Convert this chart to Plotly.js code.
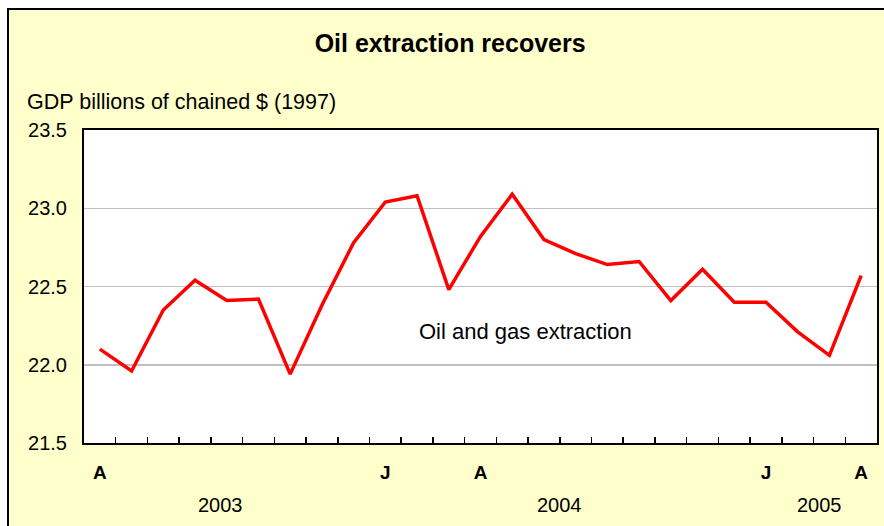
<!DOCTYPE html>
<html>
<head>
<meta charset="utf-8">
<script src="https://cdn.plot.ly/plotly-3.0.1.min.js"></script>
<style>
  html, body { margin:0; padding:0; background:#ffffff; width:884px; height:526px; overflow:hidden; }
  #frame { position:absolute; left:7px; top:8px; width:877px; height:518px; border-left:2px solid #000; border-top:2px solid #000; overflow:hidden; background:#FFFFCC; }
  #chart { width:877px; height:518px; }
</style>
</head>
<body>
<div id="frame"><div id="chart"></div></div>
<script>
// Monthly, April 2003 to April 2005
const months = ["Apr 2003","May 2003","Jun 2003","Jul 2003","Aug 2003","Sep 2003","Oct 2003","Nov 2003","Dec 2003",
                "Jan 2004","Feb 2004","Mar 2004","Apr 2004","May 2004","Jun 2004","Jul 2004","Aug 2004","Sep 2004",
                "Oct 2004","Nov 2004","Dec 2004","Jan 2005","Feb 2005","Mar 2005","Apr 2005"];
const oilGas = [22.10, 21.96, 22.35, 22.54, 22.41, 22.42, 21.94, 22.38, 22.78, 23.04, 23.08, 22.48, 22.82,
                23.09, 22.80, 22.71, 22.64, 22.66, 22.41, 22.61, 22.40, 22.40, 22.21, 22.06, 22.57];
const monthLabelIdx = [0, 9, 12, 21, 24];
const monthLabelText = ["A", "J", "A", "J", "A"];
const yearLabels = ["2003", "2004", "2005"];
const yearLabelPos = [3.8, 14.5, 22.7];
const yTicks = [21.5, 22.0, 22.5, 23.0, 23.5];

const idx = months.map((m, i) => i);
const boundaries = idx.slice(0, -1).map(i => i + 0.5);
const FONT = "Liberation Sans, Arial, sans-serif";

const traces = [{
  x: idx, y: oilGas, customdata: months,
  type: "scatter", mode: "lines",
  line: { color: "#FF0000", width: 3.5 },
  hovertemplate: "%{customdata}: %{y:.2f}<extra></extra>",
  showlegend: false
}, {
  x: [idx[0], idx[idx.length-1]], y: [null, null], xaxis: "x2", yaxis: "y",
  type: "scatter", mode: "lines", showlegend: false, hoverinfo: "skip"
}];

const annotations = yearLabels.map((t, i) => ({
  text: t, x: yearLabelPos[i], xref: "x", y: -0.197, yref: "paper",
  showarrow: false, xanchor: "center", yanchor: "middle",
  font: { family: FONT, size: 20, color: "#000" }
}));
annotations.push({
  text: "Oil and gas extraction", x: 13.43, xref: "x", y: 22.21, yref: "y",
  showarrow: false, xanchor: "center", yanchor: "middle",
  font: { family: FONT, size: 22, color: "#000" }
});
annotations.push({
  text: "GDP billions of chained $ (1997)", x: -0.0746, xref: "paper", y: 1.09, yref: "paper",
  showarrow: false, xanchor: "left", yanchor: "middle",
  font: { family: FONT, size: 21.5, color: "#000" }
});

const layout = {
  width: 877, height: 518,
  margin: { l: 75, r: 9, t: 120, b: 85 },
  paper_bgcolor: "#FFFFCC",
  plot_bgcolor: "#FFFFFF",
  title: {
    text: "<b>Oil extraction recovers</b>", x: 0.503, xref: "container", y: 0.936, yanchor: "middle",
    font: { family: FONT, size: 25, color: "#000" }
  },
  xaxis: {
    range: [-0.5, idx.length - 0.5], tickvals: boundaries, ticktext: boundaries.map(() => ""),
    ticks: "inside", ticklen: 6, tickwidth: 1.5, tickcolor: "#000",
    showgrid: false, zeroline: false, showline: true, linecolor: "#000", linewidth: 2, mirror: true,
    fixedrange: true
  },
  xaxis2: {
    overlaying: "x", anchor: "y", side: "bottom",
    range: [-0.5, idx.length - 0.5], tickvals: monthLabelIdx, ticktext: monthLabelText.map(t => "<b>" + t + "</b>"),
    ticks: "", showgrid: false, zeroline: false, showline: false, ticklabelstandoff: 16,
    tickfont: { family: FONT, size: 19, color: "#000" }
  },
  yaxis: {
    range: [21.5, 23.5], tickvals: yTicks, tickformat: ".1f",
    ticks: "", showgrid: true, gridcolor: "#C0C0C0", gridwidth: 1.5,
    zeroline: false, showline: true, linecolor: "#000", linewidth: 2, mirror: true,
    tickfont: { family: FONT, size: 20, color: "#000" }, ticklabelstandoff: 11
  },
  annotations: annotations
};

Plotly.newPlot("chart", traces, layout, { displayModeBar: false, staticPlot: true });
</script>
</body>
</html>
